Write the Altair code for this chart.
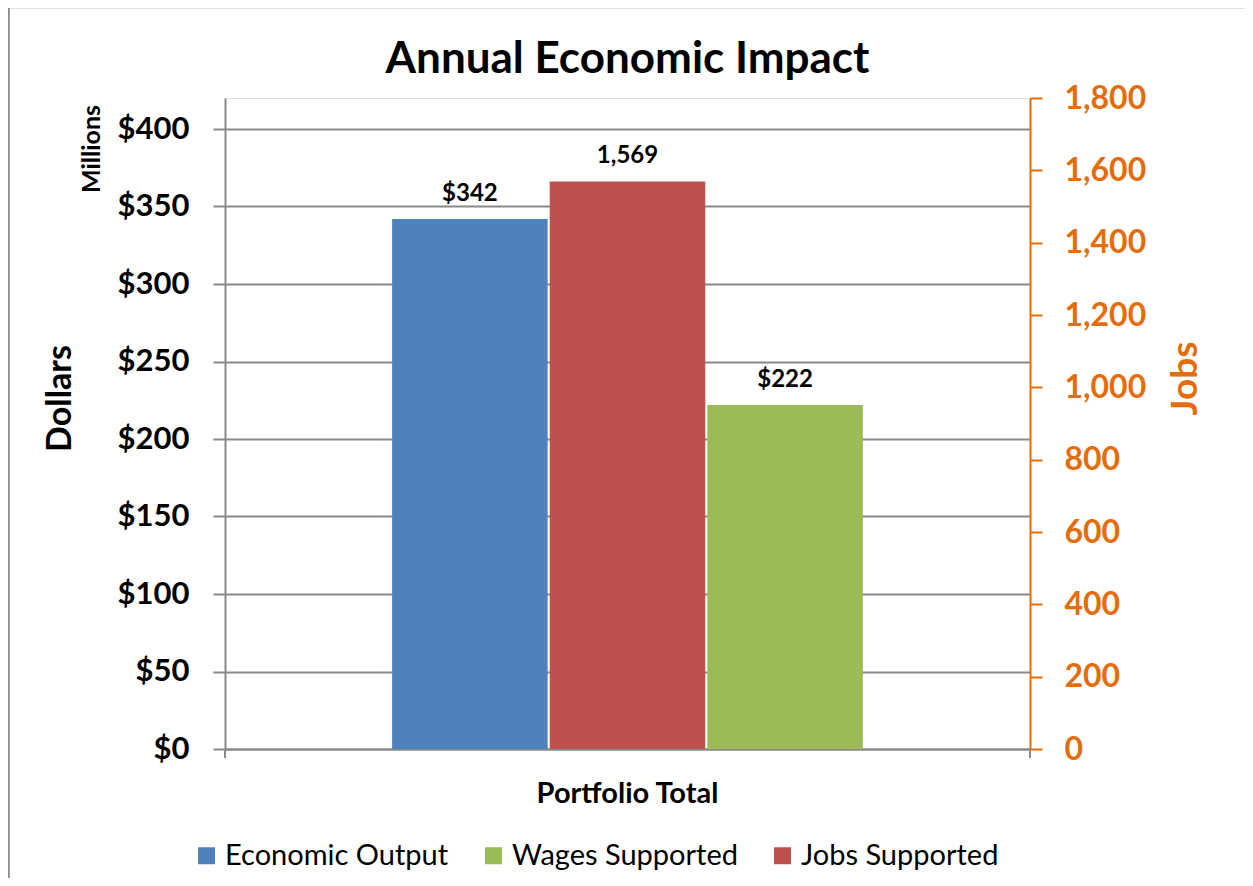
import altair as alt
import pandas as pd

# ---- data ----
group = ["Portfolio Total"]
bar_order = ["Economic Output", "Jobs Supported", "Wages Supported"]
legend_order = ["Economic Output", "Wages Supported", "Jobs Supported"]
colors = ["#4F81BD", "#9BBB59", "#C0504D"]

dollar_series = ["Economic Output", "Wages Supported"]
dollar_values = [342, 222]          # $ millions
jobs_series = ["Jobs Supported"]
jobs_values = [1569]                # jobs

dollar_ticks = [0, 50, 100, 150, 200, 250, 300, 350, 400]
jobs_ticks = [0, 200, 400, 600, 800, 1000, 1200, 1400, 1600, 1800]

df_dollar = pd.DataFrame({"group": group * len(dollar_series),
                          "series": dollar_series, "value": dollar_values})
df_jobs = pd.DataFrame({"group": group * len(jobs_series),
                        "series": jobs_series, "value": jobs_values})

FONT = "Lato"
GRAY = "#898989"
ORANGE = "#E46C0A"
W, H = 805, 651

x_enc = alt.X("group:N", scale=alt.Scale(paddingInner=0, paddingOuter=0.355),
              axis=alt.Axis(title=None, labelFont=FONT, labelFontSize=29,
                            labelFontWeight="bold", labelColor="black", labelLimit=0,
                            labelPadding=30, ticks=False, domainColor=GRAY,
                            domainWidth=2, labelAngle=0))
xo_enc = alt.XOffset("series:N", scale=alt.Scale(domain=bar_order, paddingInner=0.013))
color_enc = alt.Color("series:N",
                      scale=alt.Scale(domain=legend_order, range=colors),
                      legend=alt.Legend(title=None, orient="none", direction="horizontal",
                                        legendX=-33, legendY=743,
                                        symbolType="square", symbolSize=289,
                                        symbolStrokeWidth=0, labelLimit=0,
                                        labelFont=FONT, labelFontSize=29,
                                        labelColor="black", labelPadding=9,
                                        columnPadding=30))

y_left = alt.Y("value:Q",
               scale=alt.Scale(domain=[0, 420], nice=False, zero=True),
               axis=alt.Axis(orient="left", values=dollar_ticks,
                             labelExpr="'$' + datum.value",
                             labelFont=FONT, labelFontSize=31, labelFontWeight="bold",
                             labelColor="black", labelPadding=24,
                             tickSize=12, tickColor=GRAY, tickWidth=2,
                             domainColor=GRAY, domainWidth=2,
                             grid=True, gridColor=GRAY, gridWidth=2,
                             title="Dollars", titleFont=FONT, titleFontSize=34,
                             titleFontWeight="bold", titleColor="black",
                             titleAngle=270, titleAlign="center", titleBaseline="middle",
                             titleX=-165, titleY=300))

y_right = alt.Y("value:Q",
                scale=alt.Scale(domain=[0, 1800], nice=False, zero=True),
                axis=alt.Axis(orient="right", values=jobs_ticks,
                              labelExpr="format(datum.value, ',')",
                              labelFont=FONT, labelFontSize=32, labelFontWeight="bold",
                              labelColor=ORANGE, labelPadding=22,
                              tickSize=12, tickColor=ORANGE, tickWidth=2,
                              domainColor=ORANGE, domainWidth=2, grid=False,
                              title="Jobs", titleFont=FONT, titleFontSize=37,
                              titleFontWeight="bold", titleColor=ORANGE,
                              titleAngle=270, titleAlign="center", titleBaseline="middle",
                              titleX=155, titleY=280))

dollar_bars = alt.Chart(df_dollar).mark_bar().encode(
    x=x_enc, xOffset=xo_enc, y=y_left, color=color_enc)
dollar_text = alt.Chart(df_dollar).transform_calculate(
    label="'$' + datum.value").mark_text(
    font=FONT, fontSize=24, fontWeight="bold", color="black",
    baseline="alphabetic", dy=-18).encode(
    x=x_enc, xOffset=xo_enc, y=y_left, text="label:N")

# frame and small annotations
one = df_dollar.head(1)
frame_top = alt.Chart(one).mark_rule(color=GRAY, strokeWidth=2.5).encode(
    x=alt.value(-217), x2=alt.value(1030), y=alt.value(-91))
frame_left = alt.Chart(one).mark_rule(color=GRAY, strokeWidth=2.5).encode(
    x=alt.value(-216.5), y=alt.value(-92), y2=alt.value(800))
tick_l = alt.Chart(one).mark_rule(color=GRAY, strokeWidth=2).encode(
    x=alt.value(0), y=alt.value(H), y2=alt.value(H + 9))
tick_r = alt.Chart(one).mark_rule(color=GRAY, strokeWidth=2).encode(
    x=alt.value(W), y=alt.value(H), y2=alt.value(H + 9))
millions = alt.Chart(one).mark_text(
    text="Millions", font=FONT, fontSize=25, fontWeight="bold", color="black",
    angle=270, align="center", baseline="middle").encode(
    x=alt.value(-133), y=alt.value(51))

left = alt.layer(frame_top, frame_left, tick_l, tick_r, millions, dollar_bars, dollar_text)

jobs_bars = alt.Chart(df_jobs).mark_bar().encode(
    x=x_enc, xOffset=xo_enc, y=y_right, color=color_enc)
jobs_text = alt.Chart(df_jobs).transform_calculate(
    label="format(datum.value, ',')").mark_text(
    font=FONT, fontSize=24, fontWeight="bold", color="black",
    baseline="alphabetic", dy=-19).encode(
    x=x_enc, xOffset=xo_enc, y=y_right, text="label:N")
right = alt.layer(jobs_bars, jobs_text)

chart = alt.layer(left, right).resolve_scale(y="independent").properties(
    width=W, height=H,
    title=alt.TitleParams("Annual Economic Impact", font=FONT, fontSize=44,
                          fontWeight="bold", color="black", anchor="middle",
                          offset=-77),
    autosize=alt.AutoSizeParams(type="none"),
    padding={"left": 217, "top": 90, "right": 215, "bottom": 129},
).configure_view(stroke=None).configure(background="white")

chart.save("out.html", embed_options={"renderer": "svg", "actions": False})
